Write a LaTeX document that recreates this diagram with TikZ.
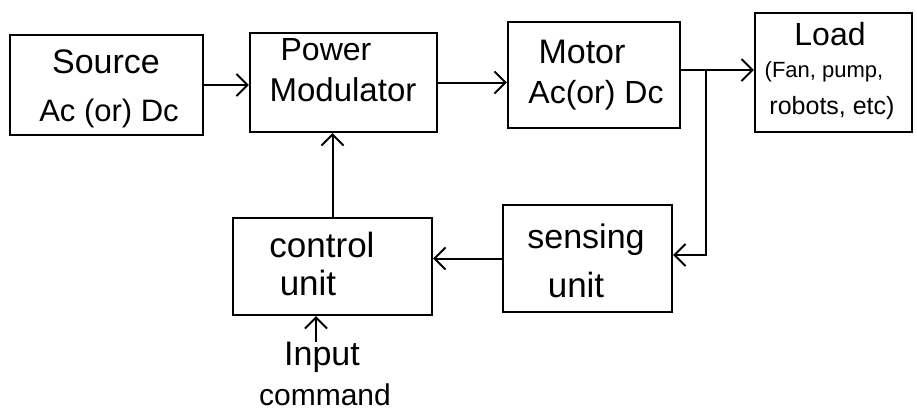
\documentclass[tikz,border=0pt]{standalone}
\usepackage{fontspec}
\setmainfont{Liberation Sans}
\usetikzlibrary{arrows.meta,calc}
\begin{document}
\begin{tikzpicture}[x=1pt,y=-1pt,
  box/.style={draw,line width=2.2pt,inner sep=0pt,minimum width=#1},
  lbl/.style={font=\fontsize{#1}{#1}\selectfont,inner sep=0pt,anchor=center},
  ln/.style={line width=2pt},
  arr/.style={line width=2pt,-{Straight Barb[length=11pt,width=22pt,line width=2pt]}}]
\useasboundingbox (0,0) rectangle (917,413);
% boxes
\node[box=193pt,minimum height=100pt] (src) at (106.5,85) {};
\node[box=187pt,minimum height=99pt] (pm) at (343.5,82.5) {};
\node[box=172pt,minimum height=106pt] (mot) at (594,75) {};
\node[box=157pt,minimum height=119pt] (load) at (833.5,72.5) {};
\node[box=199pt,minimum height=97pt] (ctrl) at (332.5,266.5) {};
\node[box=169pt,minimum height=107pt] (sens) at (587.5,258.5) {};
% texts
\node[lbl=34] (t1) at (106,62) {Source};
\node[lbl=31] (t2) at (109,113) {Ac (or) Dc};
\node[lbl=32] (t3) at (326,50) {Power};
\node[lbl=33] (t4) at (343,90) {Modulator};
\node[lbl=34] (t5) at (582,52) {Motor};
\node[lbl=32] (t6) at (596,95) {Ac(or) Dc};
\node[lbl=32] (t7) at (830,34) {Load};
\node[lbl=22] (t8) at (824,72) {(Fan, pump,};
\node[lbl=25] (t9) at (832,108) {robots, etc)};
\node[lbl=35] (t10) at (322,245) {control};
\node[lbl=35] (t11) at (308,283) {unit};
\node[lbl=34] (t12) at (586,240) {sensing};
\node[lbl=35] (t13) at (576,285) {unit};
\node[lbl=34] (inp) at (322,357) {Input};
\node[lbl=30] (cmd) at (325,395) {command};
% connectors
\coordinate (j) at (706,70);
\coordinate (k) at (706,255);
\draw[arr] (src.east) -- (src.east -| pm.west);
\draw[arr] (pm.east) -- (pm.east -| mot.west);
\draw[ln] (mot.east |- j) -- (j);
\draw[arr] (j) -- (j -| load.west);
\draw[arr] (j) -- (k) -- (k -| sens.east);
\draw[arr] (sens.west) -- (sens.west -| ctrl.east);
\draw[arr] (ctrl.north) -- (ctrl.north |- pm.south);
\draw[arr] ([xshift=-6pt]inp.north) -- ([xshift=-6pt]inp.north |- ctrl.south);
\end{tikzpicture}
\end{document}
